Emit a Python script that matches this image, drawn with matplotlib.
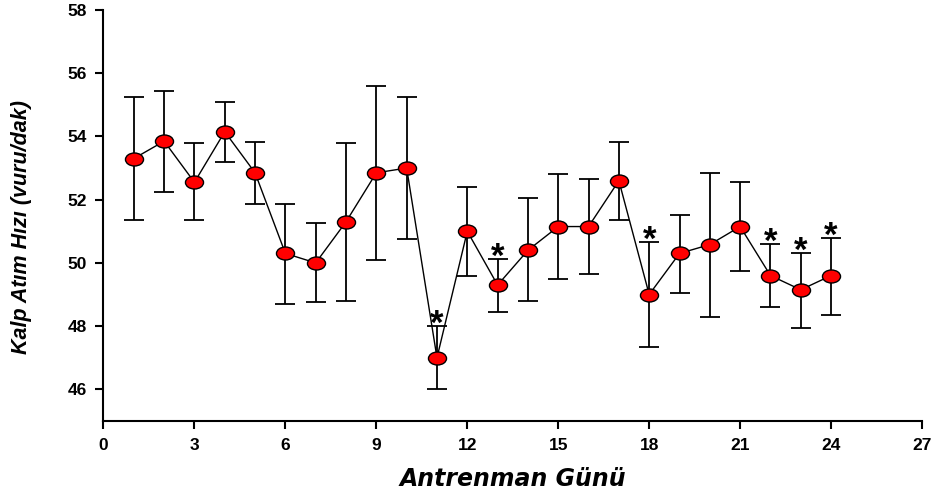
import matplotlib.pyplot as plt
from matplotlib.path import Path
from matplotlib.transforms import Affine2D

# training day and heart rate (mean, error)
days = list(range(1, 25))
heart_rate = [53.3, 53.85, 52.55, 54.15, 52.85, 50.3, 50.0, 51.3, 52.85, 53.0,
              47.0, 51.0, 49.3, 50.4, 51.15, 51.15, 52.6, 49.0, 50.3, 50.58,
              51.15, 49.6, 49.15, 49.6]
err_up = [1.95, 1.6, 1.25, 0.93, 0.98, 1.55, 1.25, 2.5, 2.75, 2.25,
          1.0, 1.4, 0.82, 1.65, 1.65, 1.5, 1.22, 1.65, 1.22, 2.27,
          1.4, 1.0, 1.17, 1.18]
err_down = [1.95, 1.6, 1.2, 0.95, 1.0, 1.6, 1.25, 2.52, 2.75, 2.25,
            1.0, 1.4, 0.85, 1.6, 1.65, 1.5, 1.25, 1.65, 1.25, 2.28,
            1.4, 1.0, 1.2, 1.25]
significant = [11, 13, 18, 22, 23, 24]

xticks = list(range(0, 28, 3))
yticks = list(range(46, 59, 2))

ellipse = Path.unit_circle().transformed(Affine2D().scale(1.0, 0.72))

fig = plt.figure(figsize=(9.34, 4.94), dpi=100)
ax = fig.add_axes([0.1108, 0.1478, 0.8764, 0.832])

ax.errorbar(days, heart_rate, yerr=[err_down, err_up], fmt="none",
            ecolor="black", elinewidth=1.3, capsize=7, capthick=1.3, zorder=2)
ax.plot(days, heart_rate, color="black", linewidth=1.0, zorder=3)
ax.plot(days, heart_rate, linestyle="none", marker=ellipse, markersize=13,
        markerfacecolor="red", markeredgecolor="black", markeredgewidth=1.0, zorder=4)

for d in significant:
    i = days.index(d)
    ax.annotate("*", xy=(d, heart_rate[i] + err_up[i]), xytext=(0, -10.5),
                textcoords="offset points", ha="center", va="bottom",
                fontsize=25, fontweight="bold", family="Liberation Sans", zorder=5)

ax.set_xlim(0, 27)
ax.set_ylim(45, 58)
ax.set_xticks(xticks)
ax.set_yticks(yticks)
for side in ["top", "right"]:
    ax.spines[side].set_visible(False)
for side in ["left", "bottom"]:
    ax.spines[side].set_linewidth(1.5)
ax.tick_params(direction="out", length=6, width=1.5, pad=6)
for lab in ax.get_xticklabels() + ax.get_yticklabels():
    lab.set_family("Liberation Sans")
    lab.set_fontweight("bold")
    lab.set_fontsize(12.5)

ax.set_xlabel("Antrenman Günü", fontsize=17, fontweight="bold", fontstyle="italic",
              family="DejaVu Sans", labelpad=10)
ax.set_ylabel("Kalp Atım Hızı (vuru/dak)", fontsize=15.5, fontweight="bold",
              fontstyle="italic", family=["Liberation Sans Narrow", "Liberation Sans"])
ax.yaxis.set_label_coords(-0.0874, 0.472)

fig.savefig("out.png", dpi=100)
